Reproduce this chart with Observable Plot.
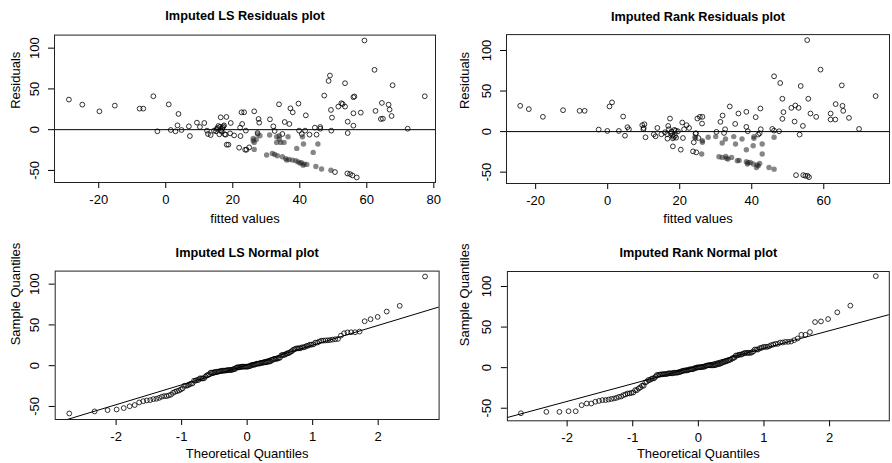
<!DOCTYPE html>
<html><head><meta charset="utf-8">
<script src="https://cdn.jsdelivr.net/npm/d3@7"></script>
<script src="https://cdn.jsdelivr.net/npm/@observablehq/plot@0.6"></script>
<style>
body{margin:0;background:#fff;}
#wrap{position:relative;width:892px;height:463px;overflow:hidden;background:#fff}
.panel{position:absolute}
</style></head><body><div id="wrap"></div>
<script>
// ---------- data ----------
// LS fit: observed (open circles)
const lsOpenFitted = [-28.9,-24.9,-19.8,-15.2,-7.8,-6.7,-3.7,-2.5,0.9,1.5,
 2.9,3.5,3.8,4.7,6.9,7.2,9.3,10.2,11.5,12.3,
 12.6,13.4,14.4,15.2,15.7,16.0,16.4,16.7,17.0,17.4,
 17.6,18.1,17.9,18.2,18.7,19.2,19.4,20.4,21.9,22.2,
 22.3,22.6,22.8,23.4,23.7,24.1,23.9,24.9,26.4,27.4,
 27.7,27.9,31.1,32.1,32.5,33.8,34.8,35.5,36.9,37.2,
 37.9,39.6,39.8,40.6,41.6,41.8,42.9,44.5,45.0,46.1,
 46.1,47.3,48.6,49.0,49.3,49.6,49.4,50.5,51.5,52.4,
 53.5,53.5,54.3,54.3,54.2,55.0,55.7,56.0,56.0,56.0,
 57.0,58.2,59.3,62.3,62.6,64.2,64.5,64.8,66.5,66.8,
 67.7,67.4,72.2,77.3,
 15.5,16.2,16.8,17.2,15.0,16.5,56.3,52.8];
const lsOpenResid = [36.9,30.7,22.5,29.5,25.8,25.8,41.0,-2.0,31.0,-0.4,
 -2.0,5.3,19.3,-0.4,4.1,-7.8,8.6,3.3,8.2,-1.2,
 -5.3,-6.6,-1.2,0.8,4.5,-5.7,15.2,-2.5,2.5,5.3,
 -5.7,15.6,-6.1,-18.4,-18.4,-4.5,8.2,-7.0,-22.1,2.5,
 -7.8,21.3,7.0,21.3,-24.6,-24.6,-1.2,-21.7,22.5,-4.1,
 13.1,8.6,12.7,4.1,-1.6,31.1,-5.3,9.4,7.0,26.2,
 21.3,32.0,-1.2,-5.3,-1.2,17.6,-6.1,2.5,-6.1,3.3,
 1.2,41.8,59.8,66.4,24.2,14.8,-1.2,-52.0,28.3,32.4,
 57.0,28.3,9.8,-4.1,-53.7,-54.5,-56.1,39.8,20.1,4.9,
 -58.6,20.9,109.4,73.4,23.0,13.1,32.8,13.5,30.7,24.6,
 54.5,16.8,1.2,41.0,
 2.0,3.5,1.0,4.0,-2.0,-1.0,40.8,31.5];
// LS fit: imputed (filled grey)
const lsImpFitted = [26.1,26.1,26.4,27.4,28.1,26.4,31.0,33.1,33.1,33.9,
 34.3,35.3,36.5,33.9,39.1,41.1,44.0,45.4,40.8,30.1,
 31.8,33.3,34.8,35.8,36.1,37.8,38.8,40.0,40.5,41.3,
 42.1,44.8,46.5,49.3,27.0,41.0,39.5,36.8,32.5];
const lsImpResid = [-10.7,-13.5,-15.6,-5.3,-7.4,-24.2,-6.6,-8.6,-15.6,-11.5,
 -15.6,-15.6,-8.6,-7.4,-23.0,-17.6,-27.9,-17.6,-8.6,-31.1,
 -29.1,-32.0,-33.2,-35.5,-37.3,-37.3,-38.1,-41.0,-40.6,-42.2,
 -42.6,-45.1,-48.3,-49.8,-12.0,-43.5,-39.5,-36.5,-30.5];

// Rank fit: observed
const rkOpenFitted = [-24.3,-21.9,-18.0,-12.4,-7.8,-6.4,-2.5,-0.1,0.5,1.2,
 3.1,4.3,4.8,5.5,5.9,9.6,9.9,10.2,10.5,12.8,
 13.3,13.8,14.9,15.9,16.5,16.8,17.0,17.3,16.6,17.7,
 18.0,18.1,18.1,18.5,18.7,18.9,19.5,20.3,20.7,20.9,
 21.2,21.9,22.6,23.7,23.9,24.4,24.6,24.9,25.2,25.6,
 26.3,26.2,30.2,31.3,31.9,32.6,32.3,33.9,35.4,36.3,
 38.5,38.5,38.9,41.1,42.4,42.5,42.2,45.7,46.2,46.2,
 47.6,47.9,48.5,48.5,48.8,51.0,51.9,52.1,52.3,53.0,
 53.3,53.6,54.2,54.3,54.9,55.4,55.5,55.7,55.9,56.3,
 57.9,59.1,61.9,61.9,63.2,63.3,65.0,65.2,65.4,67.0,
 69.8,74.4,41.8,17.5,18.3,19.0,10.0,24.5];
const rkOpenResid = [31.8,27.7,18.2,26.4,25.6,25.6,2.5,0.8,31.0,36.0,
 0.8,18.6,-5.0,5.4,2.9,7.9,2.9,9.1,-7.0,-3.3,
 -5.8,4.5,-3.3,-0.8,-3.3,7.0,2.9,16.1,-8.7,0.0,
 -4.5,-18.2,-8.3,2.1,-5.4,1.2,0.4,-22.3,11.2,-7.9,
 2.9,7.9,4.5,-24.4,-13.2,-2.5,-25.6,16.1,-7.9,18.2,
 18.2,9.9,-0.4,12.0,19.8,2.9,-1.7,31.0,9.5,22.3,
 24.4,5.8,0.4,17.8,28.5,2.9,-2.1,3.3,68.2,1.2,
 0.4,59.9,40.5,15.7,24.0,29.3,12.4,32.2,-53.7,29.3,
 -3.7,56.2,7.0,-53.7,-54.5,112.8,-54.5,40.5,-56.2,22.3,
 18.2,76.4,22.3,14.9,14.9,33.9,57.0,31.8,25.6,16.9,
 3.3,43.8,-3.7,-2.0,-6.5,-7.5,4.5,-2.0];
// Rank fit: imputed
const rkImpFitted = [24.2,24.4,26.3,26.3,26.1,27.9,30.0,31.8,32.7,32.8,
 30.9,31.8,33.4,34.4,35.0,35.5,36.0,37.3,38.5,38.5,
 38.8,39.6,40.4,40.4,40.6,40.6,41.3,41.8,42.2,42.9,
 42.9,44.8,46.2,46.2,41.5,39.0,33.0,36.5];
const rkImpResid = [-7.0,-8.0,-11.2,-13.2,-27.7,-7.0,-6.2,-14.0,-9.1,-30.6,
 -31.0,-31.8,-33.9,-31.8,-6.2,-15.3,-36.0,-9.1,-22.3,-37.2,
 -40.0,-38.0,-40.0,-17.4,-6.2,-8.3,-44.2,-42.0,-39.3,-15.3,
 -27.7,-44.2,-46.3,-7.0,-41.0,-38.5,-33.0,-35.5];

const residTicksY = [-50, 0, 50, 100];
const lsTicksX = [-20, 0, 20, 40, 60, 80];
const rkTicksX = [-20, 0, 20, 40, 60];
const qqTicksX = [-2, -1, 0, 1, 2];

// ---------- helpers ----------
function qnorm(p){
 const a=[-3.969683028665376e+01,2.209460984245205e+02,-2.759285104469687e+02,1.383577518672690e+02,-3.066479806614716e+01,2.506628277459239e+00];
 const b=[-5.447609879822406e+01,1.615858368580409e+02,-1.556989798598866e+02,6.680131188771972e+01,-1.328068155288572e+01];
 const c=[-7.784894002430293e-03,-3.223964580411365e-01,-2.400758277161838e+00,-2.549732539343734e+00,4.374664141464968e+00,2.938163982698783e+00];
 const d=[7.784695709041462e-03,3.224671290700398e-01,2.445134137142996e+00,3.754408661907416e+00];
 const pl=0.02425, ph=1-pl; let q,r;
 if(p<pl){q=Math.sqrt(-2*Math.log(p));return (((((c[0]*q+c[1])*q+c[2])*q+c[3])*q+c[4])*q+c[5])/((((d[0]*q+d[1])*q+d[2])*q+d[3])*q+1);}
 if(p<=ph){q=p-0.5;r=q*q;return (((((a[0]*r+a[1])*r+a[2])*r+a[3])*r+a[4])*r+a[5])*q/(((((b[0]*r+b[1])*r+b[2])*r+b[3])*r+b[4])*r+1);}
 q=Math.sqrt(-2*Math.log(1-p));return -(((((c[0]*q+c[1])*q+c[2])*q+c[3])*q+c[4])*q+c[5])/((((d[0]*q+d[1])*q+d[2])*q+d[3])*q+1);
}
const pts = (xs, ys) => xs.map((x, i) => ({x, y: ys[i]}));
function qq(values){
 const s = values.slice().sort(d3.ascending), n = s.length;
 const data = s.map((y, i) => ({x: qnorm((i + 0.5) / n), y}));
 const q1 = d3.quantile(s, 0.25), q3 = d3.quantile(s, 0.75);
 const slope = (q3 - q1) / (qnorm(0.75) - qnorm(0.25));
 const icpt = q1 - slope * qnorm(0.25);
 const line = [-4, 4].map(x => ({x, y: icpt + slope * x}));
 return {data, line};
}

const FONT = "'Liberation Sans', Arial, Helvetica, sans-serif";
const openDot = d => Plot.dot(d, {x: "x", y: "y", r: 2.4, stroke: "black", strokeWidth: 0.8, fill: "none"});
const impDot = d => Plot.dot(d, {x: "x", y: "y", r: 2.7, fill: "#222", fillOpacity: 0.55, stroke: "none"});

function panel(cfg){
 const p = Plot.plot({
  width: cfg.width, height: cfg.height,
  marginLeft: cfg.mL, marginRight: cfg.mR, marginTop: cfg.mT, marginBottom: cfg.mB,
  x: {domain: cfg.xDomain, ticks: cfg.xTicks, tickSize: 6, tickPadding: 6, tickFormat: d => String(d), label: null},
  y: {domain: cfg.yDomain, ticks: cfg.yTicks, tickSize: 6, tickPadding: 10, tickRotate: -90, tickFormat: d => String(d), label: null},
  style: {fontFamily: FONT, fontSize: "13px", background: "white", color: "black", overflow: "visible"},
  marks: [
   ...cfg.marks,
   Plot.frame({stroke: "#222", strokeWidth: 1}),
   Plot.text([cfg.title], {text: d => d, frameAnchor: "top", dy: cfg.titleDy, fontWeight: "bold", fontSize: 12.7, lineAnchor: "middle"}),
   Plot.text([cfg.xLabel], {text: d => d, frameAnchor: "bottom", dy: cfg.xLabelDy, fontSize: 13, lineAnchor: "middle"}),
   Plot.text([cfg.yLabel], {text: d => d, frameAnchor: "left", dx: cfg.yLabelDx, rotate: -90, fontSize: 13, lineAnchor: "middle"})
  ]
 });
 const div = document.createElement("div");
 div.className = "panel";
 div.style.left = cfg.left + "px"; div.style.top = cfg.top + "px";
 div.appendChild(p);
 document.getElementById("wrap").appendChild(div);
}

const lsOpen = pts(lsOpenFitted, lsOpenResid), lsImp = pts(lsImpFitted, lsImpResid);
const rkOpen = pts(rkOpenFitted, rkOpenResid), rkImp = pts(rkImpFitted, rkImpResid);
const lsQQ = qq(lsOpenResid.concat(lsImpResid));
const rkQQ = qq(rkOpenResid.concat(rkImpResid));

panel({left: 0, top: 0, width: 446, height: 232, mL: 54, mR: 11, mT: 34.6, mB: 50,
 xDomain: [-33.2, 80.5], yDomain: [-64.8, 116], xTicks: lsTicksX, yTicks: residTicksY,
 title: "Imputed LS Residuals plot", titleDy: -19.6, xLabel: "fitted values", xLabelDy: 36, yLabel: "Residuals", yLabelDx: -39,
 marks: [Plot.ruleY([0], {stroke: "black", strokeWidth: 1}), openDot(lsOpen), impDot(lsImp)]});

panel({left: 446, top: 0, width: 446, height: 232, mL: 60, mR: 3, mT: 34.1, mB: 49,
 xDomain: [-28.1, 78.25], yDomain: [-64, 119.6], xTicks: rkTicksX, yTicks: residTicksY,
 title: "Imputed Rank Residuals plot", titleDy: -18.1, xLabel: "fitted values", xLabelDy: 35, yLabel: "Residuals", yLabelDx: -41.7,
 marks: [Plot.ruleY([0], {stroke: "black", strokeWidth: 1}), openDot(rkOpen), impDot(rkImp)]});

panel({left: 0, top: 232, width: 446, height: 231, mL: 54.7, mR: 7.4, mT: 38.6, mB: 44,
 xDomain: [-2.93, 2.93], yDomain: [-66, 116], xTicks: qqTicksX, yTicks: residTicksY,
 title: "Imputed LS Normal plot", titleDy: -18.6, xLabel: "Theoretical Quantiles", xLabelDy: 34, yLabel: "Sample Quantiles", yLabelDx: -39.7,
 marks: [Plot.line(lsQQ.line, {x: "x", y: "y", stroke: "black", strokeWidth: 1, clip: true}), openDot(lsQQ.data)]});

panel({left: 446, top: 232, width: 446, height: 231, mL: 60.9, mR: 3.2, mT: 39, mB: 42.7,
 xDomain: [-2.91, 2.91], yDomain: [-65.5, 118.5], xTicks: qqTicksX, yTicks: residTicksY,
 title: "Imputed Rank Normal plot", titleDy: -19, xLabel: "Theoretical Quantiles", xLabelDy: 33.4, yLabel: "Sample Quantiles", yLabelDx: -42.6,
 marks: [Plot.line(rkQQ.line, {x: "x", y: "y", stroke: "black", strokeWidth: 1, clip: true}), openDot(rkQQ.data)]});
</script>
</body></html>
